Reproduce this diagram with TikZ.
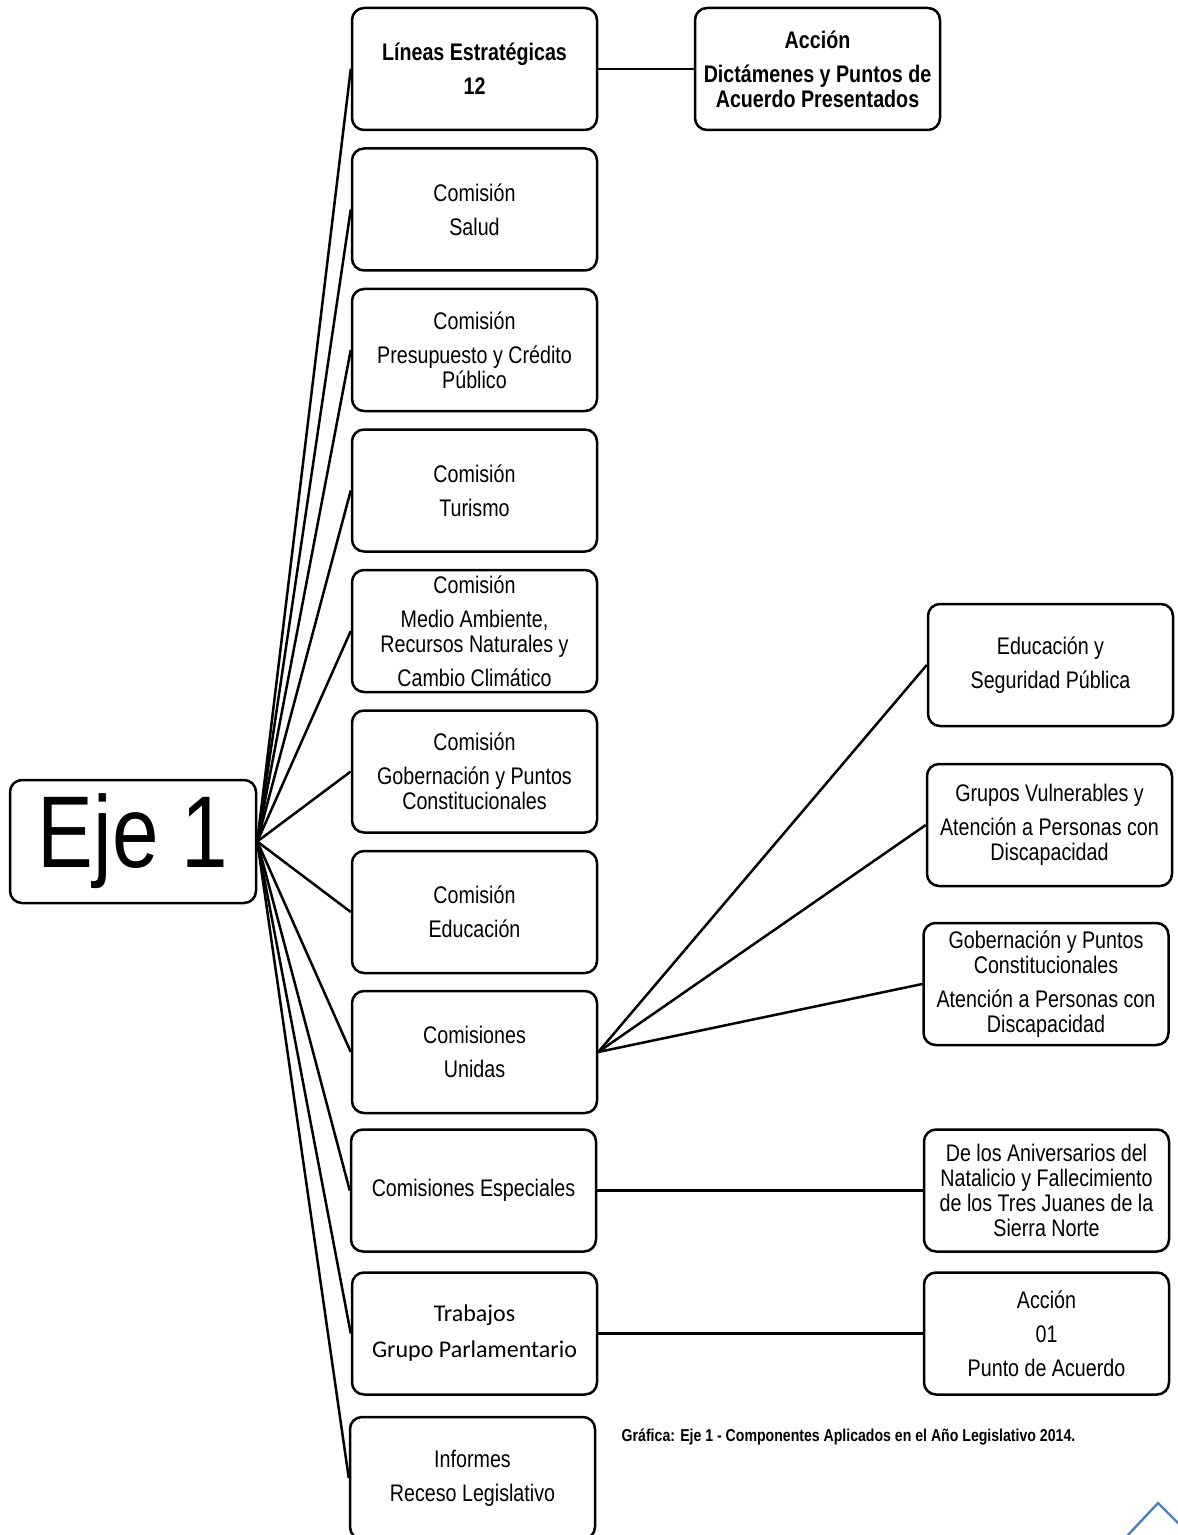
\documentclass[tikz,border=0pt]{standalone}
\usepackage{fontspec}
\setmainfont{Liberation Sans}[FakeStretch=0.82]
\newfontfamily\calibrifont{Carlito}
\definecolor{pestana}{HTML}{4F81BD}
\newcommand{\salto}{\\[4.5pt]}
\tikzset{
  cajon/.style={draw, line width=1.25pt, rounded corners=6pt, minimum width=122.5pt,
    minimum height=61pt, align=center, inner sep=1pt, font=\fontsize{12}{12.5}\selectfont},
  liga/.style={line width=1.25pt},
}
\begin{document}
\begin{tikzpicture}[x=0.5pt,y=-0.5pt]
      \useasboundingbox (0,0) rectangle (1177,1535);

      \node[cajon, minimum height=61.5pt, minimum width=123pt, font=\fontsize{51}{51}\selectfont] (eje) at (133,841.5) {Eje 1};

      % columna de comisiones
      \node[cajon, font=\fontsize{12}{12.5}\selectfont\bfseries] (lineas) at (474.5,69) {L\'ineas Estrat\'egicas\salto 12};
      \node[cajon] (salud) at (474.5,209.5) {Comisi\'on\salto Salud};
      \node[cajon] (presupuesto) at (474.5,350) {Comisi\'on\salto Presupuesto y Cr\'edito\\P\'ublico};
      \node[cajon] (turismo) at (474.5,490.5) {Comisi\'on\salto Turismo};
      \node[cajon] (ambiente) at (474.5,631) {Comisi\'on\salto Medio Ambiente,\\Recursos Naturales y\salto Cambio Clim\'atico};
      \node[cajon] (gobernacion) at (474.5,771.5) {Comisi\'on\salto Gobernaci\'on y Puntos\\Constitucionales};
      \node[cajon] (educacion) at (474.5,912) {Comisi\'on\salto Educaci\'on};
      \node[cajon] (unidas) at (474.5,1052) {Comisiones\salto Unidas};
      \node[cajon] (especiales) at (473.5,1190.5) {Comisiones Especiales};
      \node[cajon, font=\fontsize{12}{13.5}\selectfont\calibrifont] (trabajos) at (474.5,1333.5) {Trabajos\salto Grupo Parlamentario};
      \node[cajon] (informes) at (472.5,1478) {Informes\salto Receso Legislativo};

      % columna derecha
      \node[cajon, font=\fontsize{12}{12.5}\selectfont\bfseries] (accion) at (817.5,69) {Acci\'on\salto Dict\'amenes y Puntos de\\Acuerdo Presentados};
      \node[cajon] (edseg) at (1050.5,665) {Educaci\'on y\salto Seguridad P\'ublica};
      \node[cajon] (grupos) at (1049.5,825) {Grupos Vulnerables y\salto Atenci\'on a Personas con\\Discapacidad};
      \node[cajon] (gobcons) at (1046,984) {Gobernaci\'on y Puntos\\Constitucionales\salto Atenci\'on a Personas con\\Discapacidad};
      \node[cajon] (juanes) at (1046.5,1190.5) {De los Aniversarios del\\Natalicio y Fallecimiento\\de los Tres Juanes de la\\Sierra Norte};
      \node[cajon] (punto) at (1046.5,1333.5) {Acci\'on\salto 01\salto Punto de Acuerdo};

      \node[font=\fontsize{8.6}{10}\selectfont\bfseries] (grafica) at (848.5,1437) {Gr\'afica: Eje 1 - Componentes Aplicados en el A\~no Legislativo 2014.};

      % ramas
      \foreach \n in {lineas,salud,presupuesto,turismo,ambiente,gobernacion,educacion,unidas,especiales,trabajos,informes}
        \draw[liga] (eje.east) -- (\n.west);
      \foreach \n in {edseg,grupos,gobcons}
        \draw[liga] (unidas.east) -- (\n.west);
      \draw[liga] (lineas) -- (accion);
      \draw[liga] (especiales) -- (juanes);
      \draw[liga] (trabajos) -- (punto);

      \draw[pestana, line width=1.2pt] (1127,1536) -- (1158,1503) -- (1191,1536);
\end{tikzpicture}
\end{document}
